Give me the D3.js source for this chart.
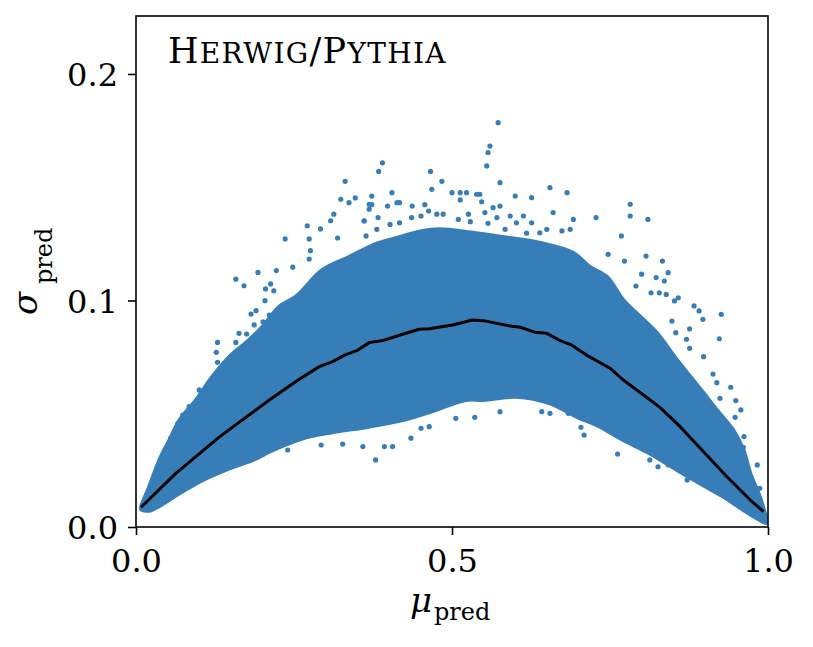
<!DOCTYPE html>
<html><head><meta charset="utf-8">
<script src="https://cdn.jsdelivr.net/npm/d3@7"></script>
<style>body{margin:0;background:#fff}svg{display:block}</style>
</head><body><svg id="c" width="813" height="647"></svg>
<script>
// ---- data ----
const xTicks = [0.0, 0.5, 1.0];
const yTicks = [0.0, 0.1, 0.2];

// binned mean of sigma_pred vs mu_pred (black line)
const meanX = [0.008,0.063,0.132,0.211,0.253,0.290,0.311,0.330,0.351,0.369,0.390,0.422,0.448,0.464,0.501,0.522,0.531,0.550,0.571,0.592,0.608,0.631,0.650,0.671,0.689,0.713,0.750,0.771,0.803,0.829,0.861,0.898,0.935,0.972,0.993];
const meanY = [0.0087,0.0237,0.0398,0.0561,0.0642,0.0708,0.0730,0.0759,0.0781,0.0814,0.0823,0.0851,0.0873,0.0875,0.0892,0.0906,0.0914,0.0911,0.0899,0.0887,0.0882,0.0860,0.0855,0.0823,0.0804,0.0759,0.0701,0.0649,0.0583,0.0528,0.0443,0.0332,0.0222,0.0119,0.0068];

// dense core of the scatter cloud: upper and lower edges
const upperX = [0.008,0.021,0.037,0.053,0.069,0.095,0.121,0.148,0.179,0.200,0.227,0.253,0.295,0.338,0.380,0.411,0.450,0.480,0.530,0.580,0.640,0.692,0.718,0.745,0.771,0.798,0.824,0.856,0.877,0.898,0.919,0.945,0.961,0.972,0.987,0.995,0.998];
const upperY = [0.0088,0.0178,0.0296,0.0384,0.0472,0.0561,0.0664,0.0752,0.0826,0.0884,0.0973,0.1017,0.1135,0.1193,0.1250,0.1275,0.1305,0.1315,0.1300,0.1280,0.1254,0.1210,0.1148,0.1105,0.1002,0.0928,0.0857,0.0737,0.0664,0.0592,0.0517,0.0428,0.0340,0.0237,0.0134,0.0062,0.0030];
const lowerX = [0.008,0.021,0.069,0.106,0.148,0.185,0.211,0.243,0.274,0.317,0.369,0.422,0.475,0.522,0.550,0.602,0.655,0.697,0.734,0.771,0.813,0.856,0.892,0.929,0.961,0.987,0.997];
const lowerY = [0.0079,0.0072,0.0149,0.0208,0.0259,0.0296,0.0332,0.0370,0.0399,0.0421,0.0443,0.0472,0.0517,0.0561,0.0561,0.0575,0.0546,0.0487,0.0443,0.0384,0.0325,0.0252,0.0193,0.0134,0.0075,0.0031,0.0018];

// individual points outside the dense core
const pointX = [0.390,0.384,0.331,0.466,0.484,0.468,0.405,0.373,0.347,0.324,0.337,0.373,0.398,0.417,0.437,0.457,0.500,0.369,0.313,0.308,0.361,0.271,0.292,0.236,0.274,0.319,0.276,0.274,0.248,0.222,0.193,0.158,0.171,0.213,0.205,0.218,0.204,0.182,0.190,0.175,0.163,0.129,0.158,0.127,0.129,0.100,0.074,0.066,0.055,
 0.379,0.240,0.201,0.293,0.327,0.359,0.393,0.406,0.435,0.451,0.464,0.506,
 0.573,0.560,0.557,0.555,0.576,0.655,0.682,0.600,0.626,0.782,0.782,0.810,0.728,0.692,0.660,0.576,0.768,0.747,0.807,0.773,0.833,0.842,0.800,0.823,0.836,0.791,0.815,0.828,0.839,0.858,0.852,0.883,0.891,0.926,0.897,0.923,0.876,0.848,0.854,0.871,0.876,0.513,0.539,0.523,0.544,
 0.898,0.913,0.919,0.941,0.924,0.949,0.957,0.948,0.962,0.961,0.983,0.987,
 0.762,0.709,0.704,0.813,0.826,0.842,0.872,0.904,0.536,0.576,0.642,0.655,0.684,
 0.513,0.547,0.369,0.413,0.361,0.383,0.402,0.417,0.436,0.451,0.463,0.476,0.486,0.510,0.526,0.529,0.552,0.565,0.571,0.557,0.592,0.613,0.602,0.626,0.639,0.650,0.674,0.687,0.364,0.381,0.584,0.618,
 0.187,0.201,0.211,0.113,0.124,0.084,0.079];
const pointY = [0.1608,0.1570,0.1526,0.1570,0.1526,0.1491,0.1476,0.1461,0.1453,0.1447,0.1432,0.1423,0.1417,0.1432,0.1417,0.1423,0.1476,0.1403,0.1381,0.1352,0.1352,0.1330,0.1316,0.1272,0.1272,0.1276,0.1220,0.1183,0.1147,0.1132,0.1124,0.1094,0.1065,0.1073,0.1051,0.1043,0.0999,0.0940,0.0955,0.0852,0.0855,0.0815,0.0815,0.0771,0.0727,0.0605,0.0494,0.0455,0.0392,
 0.0296,0.0340,0.0322,0.0362,0.0366,0.0355,0.0355,0.0355,0.0392,0.0436,0.0443,0.0480,
 0.1785,0.1682,0.1653,0.1594,0.1520,0.1498,0.1476,0.1461,0.1454,0.1425,0.1373,0.1358,0.1366,0.1358,0.1388,0.1417,0.1285,0.1204,0.1196,0.1174,0.1174,0.1123,0.1116,0.1101,0.1086,0.1064,0.1034,0.1034,0.1027,0.1012,0.0998,0.0976,0.0954,0.0939,0.0917,0.0831,0.0875,0.0909,0.0858,0.0829,0.0789,0.1476,0.1469,0.1476,0.1469,
 0.0752,0.0675,0.0637,0.0617,0.0568,0.0558,0.0517,0.0484,0.0399,0.0352,0.0274,0.0171,
 0.0322,0.0406,0.0440,0.0296,0.0266,0.0274,0.0208,0.0185,0.0484,0.0509,0.0509,0.0502,0.0502,
 0.1444,0.1436,0.1425,0.1432,0.1351,0.1366,0.1336,0.1343,0.1366,0.1373,0.1395,0.1381,0.1381,0.1358,0.1381,0.1348,0.1388,0.1410,0.1366,0.1341,0.1373,0.1373,0.1343,0.1343,0.1299,0.1314,0.1307,0.1314,0.1285,0.1314,0.1314,0.1297,
 0.0892,0.0906,0.0936,0.0612,0.0664,0.0531,0.0502];

// ---- drawing ----
const mLeft = 136, mRight = 768, mTop = 16, mBottom = 527;
const BLUE = '#377eb8';
const FONT = "'DejaVu Serif', serif";

const svg = d3.select('#c');
const x = d3.scaleLinear().domain([0, 1]).range([mLeft, mRight]);
const y = d3.scaleLinear().domain([0, 0.2256]).range([mBottom, mTop]);

svg.append('defs').append('clipPath').attr('id','clip')
  .append('rect').attr('x',mLeft).attr('y',mTop).attr('width',mRight-mLeft).attr('height',mBottom-mTop);
const plot = svg.append('g').attr('clip-path','url(#clip)');

// dense core polygon
const core = upperX.map((v,i)=>[v, upperY[i]])
  .concat(lowerX.map((v,i)=>[v, lowerY[i]]).reverse());
plot.append('path')
  .attr('d', d3.line().x(d=>x(d[0])).y(d=>y(d[1])).curve(d3.curveCatmullRomClosed.alpha(0.5))(core))
  .attr('fill', BLUE).attr('stroke', BLUE).attr('stroke-width', 4).attr('stroke-linejoin','round');

// scattered points
plot.append('g').selectAll('circle').data(pointX.map((v,i)=>[v, pointY[i]])).join('circle')
  .attr('cx', d=>x(d[0])).attr('cy', d=>y(d[1])).attr('r', 2.6).attr('fill', BLUE);

// mean line
plot.append('path')
  .attr('d', d3.line().x((d,i)=>x(meanX[i])).y((d,i)=>y(meanY[i]))(meanX))
  .attr('fill','none').attr('stroke','#000').attr('stroke-width',3).attr('stroke-linejoin','round');

// axes
const xa = svg.append('g').attr('transform',`translate(0,${mBottom})`)
  .call(d3.axisBottom(x).tickValues(xTicks).tickFormat(d3.format('.1f')).tickSize(8).tickPadding(14));
const ya = svg.append('g').attr('transform',`translate(${mLeft},0)`)
  .call(d3.axisLeft(y).tickValues(yTicks).tickFormat(d3.format('.1f')).tickSize(8).tickPadding(10));
[xa, ya].forEach(g=>{
  g.select('.domain').remove();
  g.selectAll('line').attr('stroke','#000').attr('stroke-width',1.6);
  g.selectAll('text').attr('font-family',FONT).attr('font-size',32).attr('fill','#000');
});
ya.selectAll('text').attr('dy','0.36em');

// frame
svg.append('rect').attr('x',mLeft).attr('y',mTop).attr('width',mRight-mLeft).attr('height',mBottom-mTop)
  .attr('fill','none').attr('stroke','#000').attr('stroke-width',1.6);

// x label: mu_pred
svg.append('text').attr('x',410).attr('y',612).attr('font-family',FONT).attr('font-style','italic')
  .attr('font-size',34).text('μ');
svg.append('text').attr('x',434).attr('y',620).attr('font-family',FONT).attr('font-size',24).text('pred');

// y label: sigma_pred (rotated)
const yl = svg.append('g').attr('transform','translate(37,315) rotate(-90)');
yl.append('text').attr('x',0).attr('y',0).attr('font-family',FONT).attr('font-style','italic')
  .attr('font-size',34).attr('textLength',27).text('σ');
yl.append('text').attr('x',31).attr('y',15).attr('font-family',FONT).attr('font-size',24).text('pred');

// in-plot title, small caps
const t = svg.append('text').attr('x',168).attr('y',63).attr('font-family',FONT).attr('fill','#000')
  .attr('letter-spacing',1.3);
const parts = [['H',35],['ERWIG',28],['/',35],['P',35],['YTHIA',28]];
parts.forEach(p=>t.append('tspan').attr('font-size',p[1]).text(p[0]));
</script></body></html>
